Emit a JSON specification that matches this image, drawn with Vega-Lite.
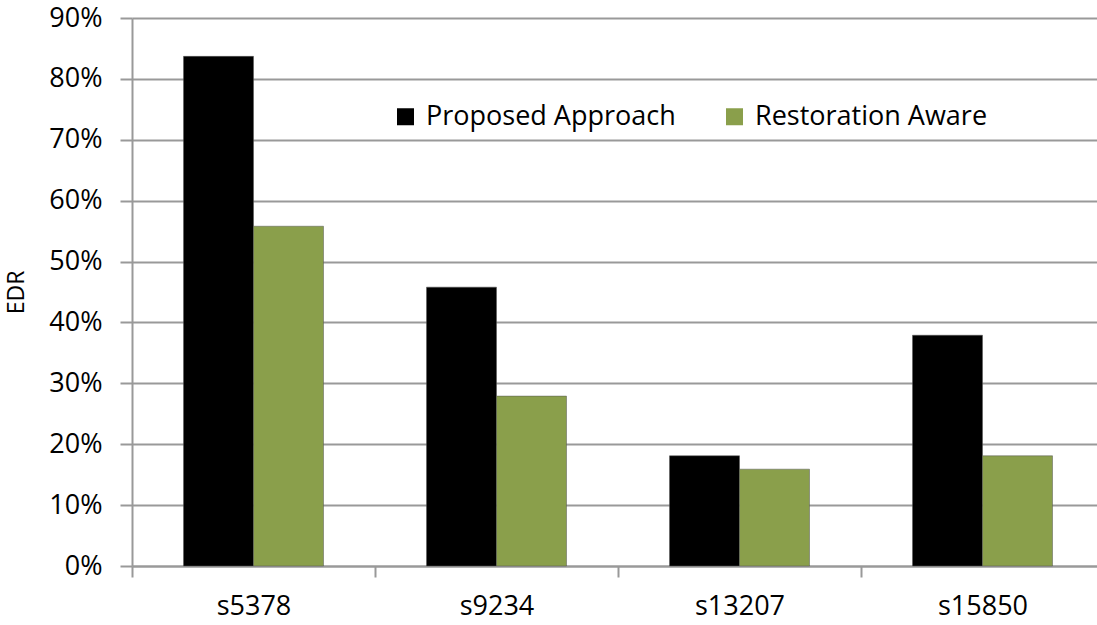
{
  "$schema": "https://vega.github.io/schema/vega-lite/v6.json",
  "autosize": "none",
  "width": 965,
  "height": 548,
  "padding": {"left": 132, "top": 18, "right": 0, "bottom": 59},
  "background": "white",
  "data": {
    "values": [
      {"circuit": "s5378", "method": "Proposed Approach", "edr": 0.837},
      {"circuit": "s5378", "method": "Restoration Aware", "edr": 0.558},
      {"circuit": "s9234", "method": "Proposed Approach", "edr": 0.458},
      {"circuit": "s9234", "method": "Restoration Aware", "edr": 0.279},
      {"circuit": "s13207", "method": "Proposed Approach", "edr": 0.181},
      {"circuit": "s13207", "method": "Restoration Aware", "edr": 0.159},
      {"circuit": "s15850", "method": "Proposed Approach", "edr": 0.379},
      {"circuit": "s15850", "method": "Restoration Aware", "edr": 0.181}
    ]
  },
  "mark": {"type": "bar", "stroke": "#555555", "strokeWidth": 0.5},
  "encoding": {
    "x": {
      "field": "circuit",
      "type": "nominal",
      "sort": ["s5378", "s9234", "s13207", "s15850"],
      "scale": {"range": [0, 972], "paddingInner": 0, "paddingOuter": 0},
      "axis": {
        "title": null,
        "labelAngle": 0,
        "labelFont": "Open Sans",
        "labelFontSize": 27,
        "labelColor": "#000000",
        "labelPadding": 16,
        "tickBand": "extent",
        "tickSize": 11,
        "tickWidth": 2,
        "tickColor": "#999999",
        "domainColor": "#999999",
        "domainWidth": 2,
        "grid": false
      }
    },
    "xOffset": {
      "field": "method",
      "type": "nominal",
      "scale": {"paddingInner": 0, "paddingOuter": 0.736}
    },
    "y": {
      "field": "edr",
      "type": "quantitative",
      "scale": {"domain": [0, 0.9], "nice": false},
      "axis": {
        "title": "EDR",
        "titleFont": "Open Sans",
        "titleFontSize": 23,
        "titleFontWeight": "normal",
        "titleColor": "#000000",
        "titlePadding": 20,
        "format": ".0%",
        "values": [0, 0.1, 0.2, 0.3, 0.4, 0.5, 0.6, 0.7, 0.8, 0.9],
        "labelFont": "Open Sans",
        "labelFontSize": 27,
        "labelColor": "#000000",
        "labelPadding": 18,
        "tickSize": 12,
        "tickWidth": 2,
        "tickColor": "#999999",
        "domainColor": "#999999",
        "domainWidth": 2,
        "grid": true,
        "gridColor": "#999999",
        "gridWidth": 2
      }
    },
    "color": {
      "field": "method",
      "type": "nominal",
      "scale": {"domain": ["Proposed Approach", "Restoration Aware"], "range": ["#000000", "#8a9f4b"]},
      "legend": {
        "title": null,
        "orient": "none",
        "legendX": 260,
        "legendY": 85,
        "direction": "horizontal",
        "symbolType": "square",
        "symbolSize": 289,
        "symbolStrokeWidth": 0,
        "labelFont": "Open Sans",
        "labelFontSize": 27,
        "labelColor": "#000000",
        "labelLimit": 0,
        "labelOffset": 7,
        "columnPadding": 45
      }
    }
  },
  "config": {"view": {"stroke": null}}
}
